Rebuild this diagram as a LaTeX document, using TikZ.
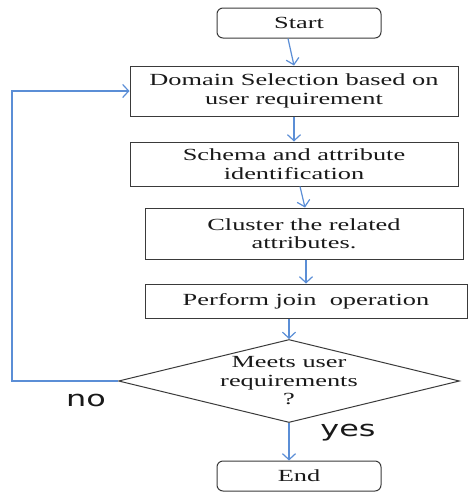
\documentclass[tikz,border=0pt]{standalone}
\usepackage{fontspec}
\usepackage{xcolor}
\usetikzlibrary{arrows.meta,shapes.geometric}

\newfontfamily\boxfont[FakeStretch=1.55]{Liberation Serif}
\newfontfamily\tagfont[FakeStretch=1.45]{DejaVu Sans}
\definecolor{flowblue}{HTML}{5B8ED6}
\definecolor{boxline}{HTML}{3A3A3A}

\begin{document}
\begin{tikzpicture}[x=1pt, y=-1pt]
        \tikzset{StepBox/.style={draw=boxline, line width=1pt, align=center, inner sep=0pt,
                 font=\boxfont\fontsize{17}{18.5}\selectfont, text=black!90}}
        \tikzset{TermBox/.style={StepBox, rounded corners=6pt, minimum width=164pt, minimum height=30pt}}
        \tikzset{FlowEdge/.style={draw=flowblue, line width=1.2pt,
                 -{Straight Barb[length=6pt,width=13pt]}}}       % directed edges
        \tikzset{EdgeTag/.style={font=\tagfont\fontsize{22}{22}\selectfont, text=black!90}}

        \useasboundingbox (0,0) rectangle (468,493);

        \node[TermBox] (Start) at (299,23) {Start};
        \node[StepBox, minimum width=328pt, minimum height=50pt] (Domain) at (294,91)
             {Domain Selection based on\\ user requirement};
        \node[StepBox, minimum width=328pt, minimum height=44pt] (Schema) at (294,164)
             {Schema and attribute\\ identification};
        \node[StepBox, minimum width=318pt, minimum height=51pt] (Cluster) at (304,233.5)
             {Cluster the related\\ attributes.};
        \node[StepBox, minimum width=322pt, minimum height=34pt] (Join) at (306,301)
             {Perform join~ operation};
        \node[StepBox, shape=diamond, aspect=4.1, minimum width=341pt, minimum height=83pt] (Check) at (289,381)
             {Meets user\\ requirements\\ ?};
        \node[TermBox] (End) at (299,476) {End};

        \coordinate (LoopX) at (12,0);

        \draw[FlowEdge] ([xshift=-11pt]Start.south) -- (Domain.north);
        \draw[FlowEdge] (Domain.south) -- (Schema.north);
        \draw[FlowEdge] ([xshift=6pt]Schema.south) -- ([xshift=1pt]Cluster.north);
        \draw[FlowEdge] ([xshift=2pt]Cluster.south) -- (Join.north);
        \draw[FlowEdge] ([xshift=-17pt]Join.south) -- (Check.north);
        \draw[FlowEdge] (Check.south) -- ([xshift=-10pt]End.north);
        \draw[FlowEdge] (Check.west) -- (Check.west -| LoopX) |- (Domain.west);

        \node[EdgeTag] (No) at (86,400) {no};
        \node[EdgeTag] (Yes) at (348,433) {yes};

      \end{tikzpicture}
\end{document}
